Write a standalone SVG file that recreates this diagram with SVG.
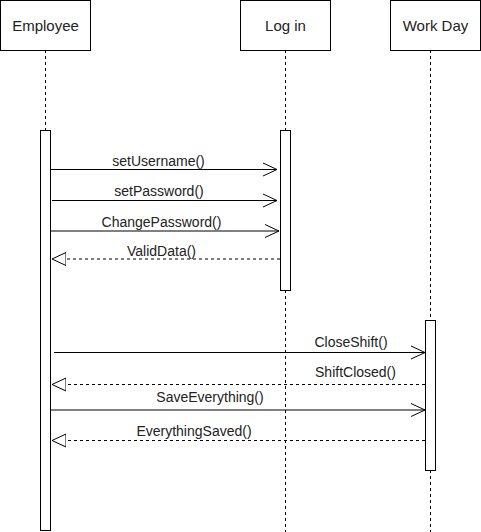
<svg xmlns="http://www.w3.org/2000/svg" width="481" height="532" viewBox="0 0 481 532">
  <defs>
    <style>
      .box { fill: #fff; stroke: #000; stroke-width: 1; }
      .life { stroke: #000; stroke-width: 1; stroke-dasharray: 3 3; fill: none; }
      .act { fill: #fff; stroke: #000; stroke-width: 1; }
      .call { stroke: #000; stroke-width: 1; fill: none; marker-end: url(#open); }
      .ret { stroke: #000; stroke-width: 1; stroke-dasharray: 3 3; fill: none; marker-end: url(#hollow); }
      .title { font-family: "Liberation Sans", Arial, sans-serif; font-size: 15px; fill: #222; text-anchor: middle; }
      .msg { font-family: "Liberation Sans", Arial, sans-serif; font-size: 14px; fill: #222; text-anchor: middle; }
    </style>
    <marker id="open" markerUnits="userSpaceOnUse" markerWidth="16" markerHeight="16" refX="14" refY="7" orient="auto" viewBox="0 0 16 14">
      <path d="M0,0.5 L14,7 L0,13.5" fill="none" stroke="#000" stroke-width="1"/>
    </marker>
    <marker id="hollow" markerUnits="userSpaceOnUse" markerWidth="16" markerHeight="16" refX="14" refY="7" orient="auto" viewBox="0 0 16 14">
      <path d="M0,0.5 L14,7 L0,13.5 Z" fill="#fff" stroke="#000" stroke-width="1"/>
    </marker>
  </defs>
  <rect width="481" height="532" fill="#fff"/>

  <!-- lifelines and activation bars -->
  <g id="employee">
    <line class="life" x1="45.5" y1="50" x2="45.5" y2="130"/>
    <rect class="box" x="0.5" y="0.5" width="90" height="50"/>
    <text class="title" x="45.5" y="31">Employee</text>
    <rect class="act" x="40.5" y="130.5" width="10" height="400"/>
  </g>
  <g id="login">
    <line class="life" x1="285.5" y1="50" x2="285.5" y2="532"/>
    <rect class="box" x="240.5" y="0.5" width="90" height="50"/>
    <text class="title" x="285.5" y="31">Log in</text>
    <rect class="act" x="280.5" y="130.5" width="10" height="160"/>
  </g>
  <g id="workday">
    <line class="life" x1="430.5" y1="50" x2="430.5" y2="532"/>
    <rect class="box" x="390.5" y="0.5" width="90" height="50"/>
    <text class="title" x="435.5" y="31">Work Day</text>
    <rect class="act" x="425.5" y="320.5" width="10" height="150"/>
  </g>

  <!-- messages -->
  <g id="connectors">
    <line class="call" x1="50.5" y1="169.5" x2="277" y2="169.5"/>
    <text class="msg" x="158.5" y="165.5">setUsername()</text>

    <line class="call" x1="52" y1="200.5" x2="277" y2="200.5"/>
    <text class="msg" x="159" y="196">setPassword()</text>

    <line class="call" x1="50.5" y1="231" x2="279" y2="231"/>
    <text class="msg" x="161.5" y="227">ChangePassword()</text>

    <line class="ret" x1="280" y1="259" x2="52" y2="259"/>
    <text class="msg" x="161.5" y="256">ValidData()</text>

    <line class="call" x1="54" y1="352.5" x2="425" y2="352.5"/>
    <text class="msg" x="351" y="347">CloseShift()</text>

    <line class="ret" x1="425" y1="384.5" x2="52" y2="384.5"/>
    <text class="msg" x="355.5" y="377">ShiftClosed()</text>

    <line class="call" x1="50.5" y1="410" x2="425" y2="410"/>
    <text class="msg" x="210" y="402">SaveEverything()</text>

    <line class="ret" x1="425" y1="440.5" x2="52" y2="440.5"/>
    <text class="msg" x="194" y="436">EverythingSaved()</text>
  </g>
</svg>
